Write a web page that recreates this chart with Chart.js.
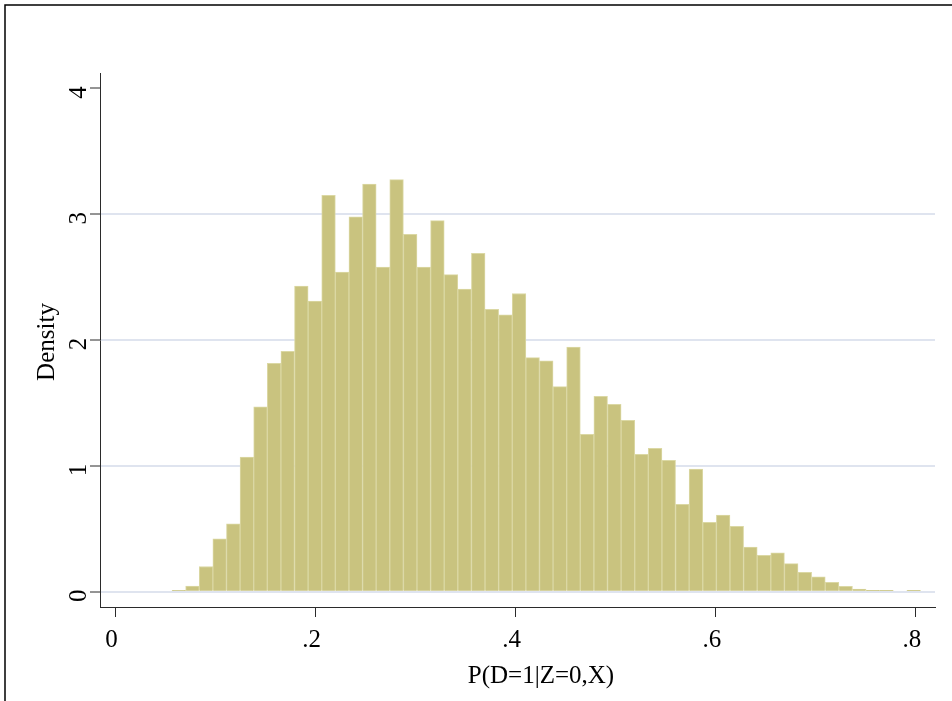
<!DOCTYPE html>
<html>
<head>
<meta charset="utf-8">
<script src="https://cdn.jsdelivr.net/npm/chart.js@4"></script>
<style>
  html, body { margin: 0; padding: 0; background: #fff; }
  #histChart { display: block; }
</style>
</head>
<body>
<canvas id="histChart" width="952" height="701"></canvas>
<script>
// histogram bins (left edge of first bin and bin width)
const binStart = 0.0565;
const binWidth = 0.0136;

// density of each bin
const densities = [
  0.01, 0.045, 0.2, 0.42, 0.54, 1.07, 1.47, 1.815, 1.91, 2.43,
  2.31, 3.15, 2.54, 2.98, 3.24, 2.58, 3.275, 2.84, 2.58, 2.95,
  2.52, 2.405, 2.69, 2.245, 2.2, 2.37, 1.86, 1.835, 1.63, 1.945,
  1.25, 1.553, 1.49, 1.362, 1.092, 1.14, 1.044, 0.694, 0.974, 0.552,
  0.61, 0.52, 0.355, 0.289, 0.308, 0.223, 0.154, 0.119, 0.075, 0.043,
  0.021, 0.011, 0.011, 0, 0.011,
];

const xTicks = [0, 0.2, 0.4, 0.6, 0.8];
const yTicks = [0, 1, 2, 3, 4];
const xTitle = "P(D=1|Z=0,X)";
const yTitle = "Density";

const serif = "'Liberation Serif', 'DejaVu Serif', serif";
const axisColor = "#2b2b2b";

// bins -> points for the bar dataset
const binCenters = densities.map((_, i) => binStart + binWidth * (i + 0.5));
const points = binCenters.map((x, i) => ({ x: x, y: densities[i] }));

function tickText(v) {
  if (v === 0) return "0";
  return String(Number(v.toFixed(1))).replace(/^0/, "");
}

// etiquetas, títulos y marco al estilo Stata
const stataText = {
  id: "stataText",
  afterDraw(chart) {
    const ctx = chart.ctx;
    const xs = chart.scales.x;
    const ys = chart.scales.y;
    ctx.save();
    ctx.fillStyle = "#000";
    ctx.font = "25px " + serif;

    // x tick labels
    ctx.textAlign = "center";
    ctx.textBaseline = "alphabetic";
    xTicks.forEach((v) => {
      ctx.fillText(tickText(v), xs.getPixelForValue(v) - 4, 647);
    });

    // x title
    ctx.fillText(xTitle, 541, 683);

    // y tick labels (rotated)
    yTicks.forEach((v) => {
      ctx.save();
      ctx.translate(86, ys.getPixelForValue(v) + 4);
      ctx.rotate(-Math.PI / 2);
      ctx.fillText(tickText(v), 0, 0);
      ctx.restore();
    });

    // y title (rotated)
    ctx.save();
    ctx.translate(54, 342);
    ctx.rotate(-Math.PI / 2);
    ctx.fillText(yTitle, 0, 0);
    ctx.restore();

    // outer frame
    ctx.strokeStyle = "#000";
    ctx.lineWidth = 1.5;
    ctx.beginPath();
    ctx.moveTo(5, 710);
    ctx.lineTo(5, 5);
    ctx.lineTo(960, 5);
    ctx.stroke();
    ctx.restore();
  },
};

const ctx = document.getElementById("histChart").getContext("2d");

new Chart(ctx, {
  type: "bar",
  data: {
    datasets: [
      {
        data: points,
        backgroundColor: "#c9c37f",
        borderColor: "#dbd8a4",
        borderWidth: 1,
        borderSkipped: "start",
        barPercentage: 1,
        categoryPercentage: 1,
        grouped: false,
      },
    ],
  },
  options: {
    responsive: false,
    animation: false,
    devicePixelRatio: 1,
    layout: { padding: { left: 0, top: 73, right: 17, bottom: 0 } },
    plugins: {
      legend: { display: false },
      tooltip: { enabled: false },
    },
    scales: {
      x: {
        type: "linear",
        offset: false,
        min: -0.0155,
        max: 0.819,
        afterBuildTicks: (scale) => {
          scale.ticks = xTicks.map((v) => ({ value: v }));
        },
        afterFit: (scale) => {
          scale.height = 94;
        },
        ticks: { display: false },
        grid: {
          offset: false,
          drawOnChartArea: false,
          drawTicks: true,
          tickLength: 10,
          tickColor: axisColor,
          tickWidth: 1,
        },
        border: { display: true, color: axisColor, width: 1 },
      },
      y: {
        min: -0.1216,
        max: 4.123,
        afterBuildTicks: (scale) => {
          scale.ticks = yTicks.map((v) => ({ value: v }));
        },
        afterFit: (scale) => {
          scale.width = 100;
        },
        ticks: { display: false },
        grid: {
          color: (c) => (c.tick && c.tick.value === 4 ? "rgba(0,0,0,0)" : "#dfe4ef"),
          lineWidth: 2,
          drawTicks: true,
          tickLength: 10,
          tickColor: axisColor,
          tickWidth: 1,
        },
        border: { display: true, color: axisColor, width: 1 },
      },
    },
  },
  plugins: [stataText],
});
</script>
</body>
</html>
